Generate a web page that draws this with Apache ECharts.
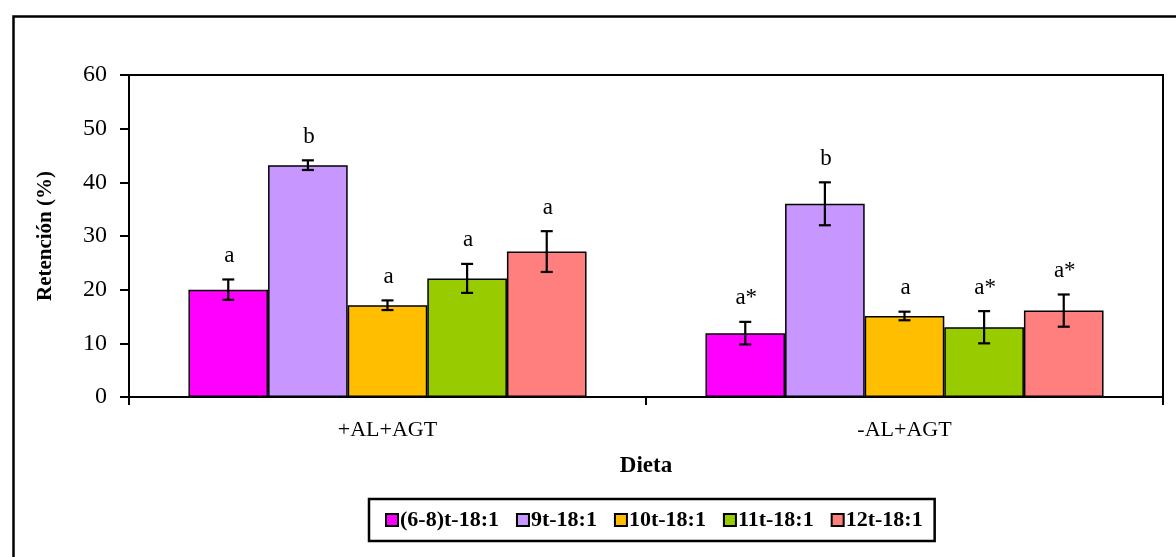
<!DOCTYPE html>
<html><head><meta charset="utf-8">
<script src="https://cdn.jsdelivr.net/npm/echarts@6/dist/echarts.min.js"></script>
<style>html,body{margin:0;padding:0;background:#fff}#c{width:1176px;height:557px}</style>
</head><body><div id="c"></div>
<script>
const categories = ['+AL+AGT', '-AL+AGT'];
const seriesNames = ['(6-8)t-18:1', '9t-18:1', '10t-18:1', '11t-18:1', '12t-18:1'];
const values_68t = [20.0, 11.9];
const values_9t = [43.2, 36.0];
const values_10t = [17.1, 15.1];
const values_11t = [22.1, 13.0];
const values_12t = [27.1, 16.1];
const errors_68t = [1.9, 2.1];
const errors_9t = [0.9, 4.0];
const errors_10t = [0.9, 0.8];
const errors_11t = [2.7, 3.0];
const errors_12t = [3.8, 3.0];
const letters_68t = ['a', 'a*'];
const letters_9t = ['b', 'b'];
const letters_10t = ['a', 'a'];
const letters_11t = ['a', 'a*'];
const letters_12t = ['a', 'a*'];
const yTicks = [0, 10, 20, 30, 40, 50, 60];

const allValues = [values_68t, values_9t, values_10t, values_11t, values_12t];
const allErrors = [errors_68t, errors_9t, errors_10t, errors_11t, errors_12t];
const allLetters = [letters_68t, letters_9t, letters_10t, letters_11t, letters_12t];
const colors = ['#FF00FF', '#C896FF', '#FFBF00', '#99CC00', '#FF7F7F'];
const catGap = 0.23;
const FONT = '"Liberation Serif", "Times New Roman", serif';

const series = [];
seriesNames.forEach((name, si) => {
  series.push({
    name: name, type: 'bar', data: allValues[si],
    barGap: '0%', barCategoryGap: (catGap * 100) + '%',
    itemStyle: { color: colors[si], borderColor: '#000', borderWidth: 1.5 }
  });
});
seriesNames.forEach((name, si) => {
  series.push({
    name: 'err' + si, type: 'custom', z: 10,
    data: allValues[si].map((v, i) => [i, v, allErrors[si][i]]),
    encode: { x: 0, y: 1 },
    renderItem: function (params, api) {
      const x = api.value(0), v = api.value(1), e = api.value(2);
      const catW = api.size([1, 0])[0];
      const bw = catW * (1 - catGap) / seriesNames.length;
      const cx = api.coord([x, v])[0] + (si - (seriesNames.length - 1) / 2) * bw;
      const yT = api.coord([x, v + e])[1], yB = api.coord([x, v - e])[1];
      const cap = 6;
      const st = { stroke: '#000', lineWidth: 2.2 };
      return {
        type: 'group', children: [
          { type: 'line', shape: { x1: cx, y1: yT, x2: cx, y2: yB }, style: st },
          { type: 'line', shape: { x1: cx - cap, y1: yT, x2: cx + cap, y2: yT }, style: st },
          { type: 'line', shape: { x1: cx - cap, y1: yB, x2: cx + cap, y2: yB }, style: st },
          { type: 'text', style: { text: allLetters[si][params.dataIndex], x: cx + 1, y: yT - 12,
            textAlign: 'center', textVerticalAlign: 'bottom', fill: '#000',
            font: '23px ' + FONT } }
        ]
      };
    }
  });
});

const chart = echarts.init(document.getElementById('c'), null, { renderer: 'canvas' });
chart.setOption({
  animation: false,
  backgroundColor: '#fff',
  textStyle: { fontFamily: FONT },
  graphic: [{ type: 'rect', left: 11, top: 14, shape: { width: 1200, height: 600 },
    style: { fill: 'none', stroke: '#000', lineWidth: 2.5 }, z: -1 }],
  grid: { left: 129, top: 75, right: 13, bottom: 160, show: true, borderColor: '#000', borderWidth: 2, backgroundColor: 'transparent' },
  legend: {
    data: seriesNames, left: 369, top: 499, padding: [10, 12, 10, 16],
    borderColor: '#000', borderWidth: 2.5, itemWidth: 12, itemHeight: 12, itemGap: 17,
    icon: 'rect',
    itemStyle: { borderColor: '#000', borderWidth: 2 },
    textStyle: { fontFamily: FONT, fontSize: 22, fontWeight: 'bold', color: '#000', padding: [0, 0, 0, -3] }
  },
  xAxis: {
    type: 'category', data: categories,
    name: 'Dieta', nameLocation: 'middle', nameGap: 58,
    nameTextStyle: { fontFamily: FONT, fontSize: 23, fontWeight: 'bold', color: '#000' },
    axisLine: { lineStyle: { color: '#000', width: 2 } },
    axisTick: { show: true, length: 8, lineStyle: { color: '#000', width: 2 } },
    axisLabel: { fontFamily: FONT, fontSize: 22, color: '#000', margin: 22 }
  },
  yAxis: {
    type: 'value', min: yTicks[0], max: yTicks[yTicks.length - 1], interval: 10,
    name: 'Retención (%)', nameLocation: 'middle', nameGap: 73, nameRotate: 90,
    nameTextStyle: { fontFamily: FONT, fontSize: 21, fontWeight: 'bold', color: '#000' },
    axisLine: { show: true, lineStyle: { color: '#000', width: 2 } },
    axisTick: { show: true, length: 9, lineStyle: { color: '#000', width: 2 } },
    splitLine: { show: false },
    axisLabel: { fontFamily: FONT, fontSize: 24, color: '#000', margin: 22 }
  },
  series: series
});
</script></body></html>
